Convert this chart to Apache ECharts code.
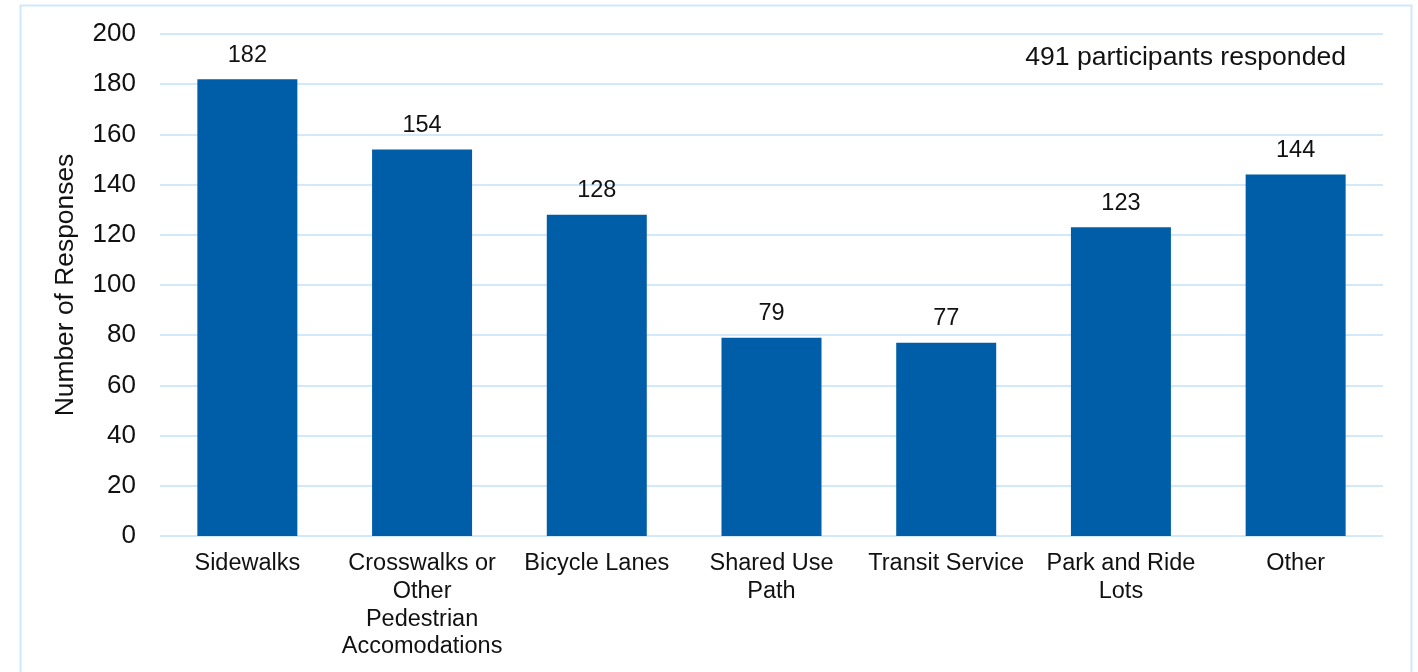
<!DOCTYPE html>
<html>
<head>
<meta charset="utf-8">
<script src="https://cdn.jsdelivr.net/npm/echarts@6/dist/echarts.min.js"></script>
<style>
  html, body { margin: 0; padding: 0; background: #fff; }
  #chart { width: 1418px; height: 672px; }
</style>
</head>
<body>
<div id="chart"></div>
<script>
// 分类与数值
const categories = ['Sidewalks', 'Crosswalks or\nOther\nPedestrian\nAccomodations', 'Bicycle Lanes', 'Shared Use\nPath', 'Transit Service', 'Park and Ride\nLots', 'Other']
const responses = [182, 154, 128, 79, 77, 123, 144]
const yTicks = { min: 0, max: 200, interval: 20 }
const note = '491 participants responded'

const font = 'Liberation Sans, Arial, sans-serif'
const chart = echarts.init(document.getElementById('chart'))

const option = {
    animation: false,
    backgroundColor: '#fff',
    graphic: [
        {
            type: 'rect',
            shape: { x: 20.5, y: 5.5, width: 1391, height: 700 },
            style: { fill: 'none', stroke: '#cfe7fb', lineWidth: 2 },
            silent: true,
        },
        {
            type: 'text',
            right: 72,
            top: 44,
            style: { text: note, font: `26.6px ${font}`, fill: '#111' },
        },
    ],
    grid: { left: 160, right: 35, top: 34, bottom: 136 },
    xAxis: {
        type: 'category',
        data: categories,
        axisLine: { show: false },
        axisTick: { show: false },
        axisLabel: {
            interval: 0,
            color: '#111',
            fontFamily: font,
            fontSize: 23.5,
            lineHeight: 27.7,
            margin: 14,
        },
    },
    yAxis: {
        type: 'value',
        min: yTicks.min,
        max: yTicks.max,
        interval: yTicks.interval,
        name: 'Number of Responses',
        nameLocation: 'middle',
        nameGap: 81,
        nameTextStyle: { color: '#111', fontFamily: font, fontSize: 26.4 },
        axisLine: { show: false },
        axisTick: { show: false },
        axisLabel: { color: '#111', fontFamily: font, fontSize: 26, margin: 24 },
        splitLine: { lineStyle: { color: '#d2e8fb', width: 2 } },
    },
    series: [
        {
            type: 'bar',
            data: responses,
            barWidth: 100,
            itemStyle: { color: '#005ea8' },
            label: {
                show: true,
                position: 'top',
                distance: 12,
                color: '#111',
                fontFamily: font,
                fontSize: 23.5,
            },
        },
    ],
}

chart.setOption(option)
</script>
</body>
</html>
